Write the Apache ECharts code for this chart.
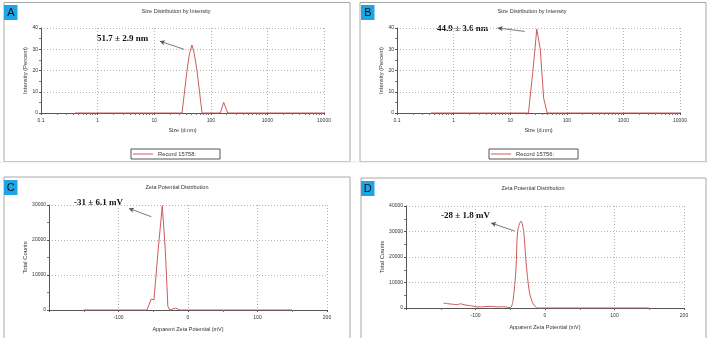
<!DOCTYPE html>
<html>
<head>
<meta charset="utf-8">
<script src="https://cdn.jsdelivr.net/npm/echarts@6/dist/echarts.min.js"></script>
<style>
  html, body { margin: 0; padding: 0; background: #fff; }
  #chart { width: 709px; height: 338px; }
</style>
</head>
<body>
<div id="chart"></div>
<script>
  // size distribution (A, B): size in d.nm and intensity in percent
  var sizeA = [0.4, 31, 38, 42, 46.5, 51, 57, 70, 147, 169, 199, 10000]
  var intensityA = [0, 0, 20, 28, 32, 28, 20, 0, 0, 5, 0, 0]
  var sizeB = [0.4, 21, 25, 29.5, 34, 39, 45, 10000]
  var intensityB = [0, 0, 19, 39.5, 30, 7, 0, 0]

  // zeta potential (C, D): mV and total counts
  var zetaC = [-150, -59, -53, -49, -47.5, -43, -37, -32.6, -29, -26, -22, -18, -15, -12, 150]
  var countsC = [0, 0, 3100, 2900, 3000, 17000, 29800, 17000, 1000, 0, 300, 500, 300, 0, 0]
  var zetaD = [-146, -140, -136, -130, -126, -122, -118, -114, -107, -98, -88, -76, -69, -60, -50,
    -46, -41.7, -39.4, -34.5, -30.7, -27.3, -22.6, -17.8, -12.9, -11, 100, 150]
  var countsD = [1900, 1700, 1550, 1400, 1300, 1650, 1400, 1150, 900, 400, 500, 650, 400, 500, 150,
    3000, 15600, 30000, 34100, 30000, 18200, 6500, 2000, 260, 0, 0, 0]

  var sizeTicks = [0.1, 1, 10, 100, 1000, 10000]
  var panelLetters = ['A', 'B', 'C', 'D']
  var titles = ['Size Distribution by Intensity', 'Size Distribution by Intensity',
    'Zeta Potential Distribution', 'Zeta Potential Distribution']
  var records = ['Record 15758:', 'Record 15756:']
  var notes = ['51.7 ± 2.9 nm', '44.9 ± 3.6 nm', '-31 ± 6.1 mV', '-28 ± 1.8 mV']

  function pairs (xs, ys) {
    var out = []
    for (var i = 0; i < xs.length; i++) out.push([xs[i], ys[i]])
    return out
  }

  var sans = 'Liberation Sans'
  var red = '#cf5a5a'
  var grid = { color: '#b4b4b4', type: [1, 2], width: 1 }

  var grids = [
    { left: 41, top: 28, width: 283, height: 85 },
    { left: 397, top: 28, width: 283, height: 85 },
    { left: 49, top: 205, width: 278, height: 105 },
    { left: 406, top: 206, width: 278, height: 102 }
  ]

  function sizeAxis (g) {
    return {
      type: 'log', logBase: 10, gridIndex: g, min: 0.1, max: 10000,
      name: 'Size (d.nm)', nameLocation: 'middle', nameGap: 14,
      nameTextStyle: { fontFamily: sans, fontSize: 5.5, color: '#333' },
      axisLine: { onZero: false, lineStyle: { color: '#555', width: 1 } },
      axisTick: { length: 2, lineStyle: { color: '#555' } },
      minorTick: { show: true, splitNumber: 10, length: 2, lineStyle: { color: '#777' } },
      axisLabel: { fontFamily: sans, fontSize: 5, color: '#333', margin: 5,
        formatter: function (v) { return sizeTicks.indexOf(+v) >= 0 ? String(v) : '' } },
      splitLine: { show: true, lineStyle: grid }
    }
  }
  function zetaAxis (g) {
    return {
      type: 'value', gridIndex: g, min: -200, max: 200, interval: 100,
      name: 'Apparent Zeta Potential (mV)', nameLocation: 'middle', nameGap: 16,
      nameTextStyle: { fontFamily: sans, fontSize: 5.5, color: '#333' },
      axisLine: { onZero: false, lineStyle: { color: '#555', width: 1 } },
      axisTick: { length: 2, lineStyle: { color: '#555' } },
      minorTick: { show: true, splitNumber: 2, length: 2, lineStyle: { color: '#777' } },
      axisLabel: { fontFamily: sans, fontSize: 5, color: '#333', margin: 5, showMinLabel: false },
      splitLine: { show: true, lineStyle: grid }
    }
  }
  function countAxis (g, name, max, interval, gap) {
    return {
      type: 'value', gridIndex: g, min: 0, max: max, interval: interval,
      name: name, nameLocation: 'middle', nameGap: gap,
      nameTextStyle: { fontFamily: sans, fontSize: 5.8, color: '#333' },
      axisLine: { show: true, onZero: false, lineStyle: { color: '#555', width: 1 } },
      axisTick: { show: true, length: 2, lineStyle: { color: '#555' } },
      minorTick: { show: true, splitNumber: 2, length: 2, lineStyle: { color: '#777' } },
      axisLabel: { fontFamily: sans, fontSize: 5, color: '#333', margin: 3,
        formatter: function (v) { return String(v) } },
      splitLine: { show: true, lineStyle: grid }
    }
  }

  function arrow (from, to) {
    return {
      silent: true, symbol: ['none', 'arrow'], symbolSize: [4, 5],
      lineStyle: { color: '#555', width: 0.8, type: 'solid' },
      label: { show: false },
      data: [[{ coord: from }, { coord: to }]]
    }
  }

  var series = [
    { name: records[0], type: 'line', xAxisIndex: 0, yAxisIndex: 0, symbol: 'none',
      lineStyle: { color: red, width: 1 }, itemStyle: { color: red },
      data: pairs(sizeA, intensityA), markLine: arrow([33.5, 30], [12.6, 33.8]) },
    { name: records[1], type: 'line', xAxisIndex: 1, yAxisIndex: 1, symbol: 'none',
      lineStyle: { color: red, width: 1 }, itemStyle: { color: red },
      data: pairs(sizeB, intensityB), markLine: arrow([18, 38.4], [6, 40]) },
    { name: 'C', type: 'line', xAxisIndex: 2, yAxisIndex: 2, symbol: 'none',
      lineStyle: { color: red, width: 1 },
      data: pairs(zetaC, countsC), markLine: arrow([-52.7, 26650], [-85, 29030]) },
    { name: 'D', type: 'line', xAxisIndex: 3, yAxisIndex: 3, symbol: 'none', smooth: 0.3,
      lineStyle: { color: red, width: 1 },
      data: pairs(zetaD, countsD), markLine: arrow([-44, 30200], [-77.6, 33350]) }
  ]

  // frames, panel letters, titles and notes
  var frames = [[4, 2.5, 346, 159], [360, 2.5, 346, 159], [4, 177, 346, 170], [361, 178, 345, 170]]
  var letterBoxes = [[4, 5], [361, 5], [4, 180], [361, 181]]
  var titlePos = [[176, 11.5], [532, 11.5], [177, 187.5], [533, 188]]
  var notePos = [[97, 39], [437, 28.5], [74, 202.5], [441, 216]]
  var graphics = []
  for (var i = 0; i < 4; i++) {
    graphics.push({ type: 'rect', shape: { x: frames[i][0], y: frames[i][1], width: frames[i][2], height: frames[i][3] },
      style: { fill: 'none', stroke: '#a8a8a8', lineWidth: 1 }, silent: true })
    graphics.push({ type: 'rect', shape: { x: letterBoxes[i][0], y: letterBoxes[i][1], width: 13.5, height: 15 },
      style: { fill: '#1ea5e6' }, silent: true })
    graphics.push({ type: 'text', x: letterBoxes[i][0] + 6.8, y: letterBoxes[i][1] + 7.8,
      style: { text: panelLetters[i], font: '11px "Liberation Sans"', fill: '#111', align: 'center', verticalAlign: 'middle' } })
    graphics.push({ type: 'text', x: titlePos[i][0], y: titlePos[i][1],
      style: { text: titles[i], font: '5.5px "Liberation Sans"', fill: '#333', align: 'center', verticalAlign: 'middle' } })
    graphics.push({ type: 'text', x: notePos[i][0], y: notePos[i][1],
      style: { text: notes[i], font: 'bold 9px "Liberation Serif"', fill: '#111', align: 'left', verticalAlign: 'middle' } })
  }
  graphics.push({ type: 'line', shape: { x1: 0, y1: 162, x2: 709, y2: 162 }, style: { stroke: '#e4e4f4', lineWidth: 1 }, silent: true })

  var legendBase = {
    orient: 'horizontal', top: 149, itemWidth: 20, itemHeight: 1, icon: 'rect',
    borderColor: '#555', borderWidth: 1, padding: [2, 24, 2, 2],
    textStyle: { fontFamily: sans, fontSize: 5.8, color: '#333' }
  }

  var chart = echarts.init(document.getElementById('chart'), null, { renderer: 'canvas' })
  chart.setOption({
    animation: false,
    backgroundColor: '#fff',
    grid: grids,
    legend: [
      Object.assign({}, legendBase, { left: 131, data: [records[0]] }),
      Object.assign({}, legendBase, { left: 489, data: [records[1]] })
    ],
    xAxis: [sizeAxis(0), sizeAxis(1), zetaAxis(2), zetaAxis(3)],
    yAxis: [
      countAxis(0, 'Intensity (Percent)', 40, 10, 10),
      countAxis(1, 'Intensity (Percent)', 40, 10, 10),
      countAxis(2, 'Total Counts', 30000, 10000, 17),
      countAxis(3, 'Total Counts', 40000, 10000, 18)
    ],
    series: series,
    graphic: graphics
  })
</script>
</body>
</html>
